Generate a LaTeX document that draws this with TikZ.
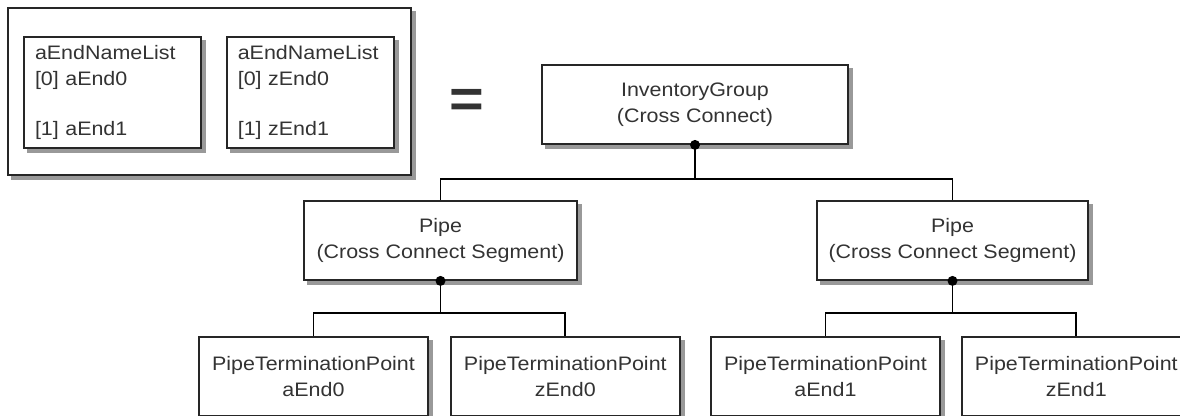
\documentclass[tikz,border=0pt]{standalone}
\usepackage{fontspec}
\setmainfont{Liberation Sans}[FakeStretch=1.1]
\usetikzlibrary{positioning, calc}

\begin{document}
\begin{tikzpicture}[x=1pt, y=-1pt, line width=1.8pt, node distance=21pt,
        every node/.style={font=\fontsize{19.5}{26}\selectfont, text=black!80},
        box/.style={draw=black!85, fill=white, inner sep=0pt, align=center, minimum height=79pt},
        listbox/.style={box, align=left, inner xsep=11pt, minimum height=111pt},
        dropline/.style={draw=black!40, line width=4pt, line cap=rect}]
        \clip (0,0) rectangle (1180,415);

        % Legend
        \node[box, minimum width=403pt, minimum height=167pt] (frame) at (209.5,91.5) {};
        \node[listbox, text width=155pt] (listA) at (112.5,92.5) {aEndNameList\\{}[0] aEnd0\\[24pt]{}[1] aEnd1};
        \node[listbox, text width=145pt] (listZ) [right=24pt of listA] {aEndNameList\\{}[0] zEnd0\\[24pt]{}[1] zEnd1};
        \node[font=\fontsize{54}{54}\selectfont\bfseries] (eq) at (467,103) {=};

        % Nodes
        \node[box, minimum width=306pt] (ig) at (695,104.5) {InventoryGroup\\(Cross Connect)};
        \node[box, minimum width=273pt] (pipeA) at (440.5,240.5) {Pipe\\(Cross Connect Segment)};
        \node[box, minimum width=271pt] (pipeB) at (952.5,240.5) {Pipe\\(Cross Connect Segment)};
        \node[box, minimum width=229pt] (tpA0) at (313.5,376.5) {PipeTerminationPoint\\aEnd0};
        \node[box, minimum width=229pt] (tpZ0) [right=of tpA0] {PipeTerminationPoint\\zEnd0};
        \node[box, minimum width=229pt] (tpA1) at (825.5,376.5) {PipeTerminationPoint\\aEnd1};
        \node[box, minimum width=229pt] (tpZ1) [right=20pt of tpA1] {PipeTerminationPoint\\zEnd1};

        % Shadows
        \foreach \n in {frame, listA, listZ, ig, pipeA, pipeB, tpA0, tpZ0, tpA1, tpZ1} {
                \draw[dropline] ($(\n.north east)+(2,6)$) -- ($(\n.south east)+(2,2)$)
                        -- ($(\n.south west)+(6,2)$);
        }

        % Edges
        \draw (ig.south) -- ++(0,34) coordinate (igbus);
        \draw (pipeA.north) |- (igbus) -| (pipeB.north);
        \foreach \p/\l/\r in {pipeA/tpA0/tpZ0, pipeB/tpA1/tpZ1} {
                \draw (\p.south) -- ++(0,32) coordinate (\p bus);
                \draw (\l.north) |- (\p bus) -| (\r.north);
        }

        % Dots
        \foreach \n in {ig, pipeA, pipeB} {
                \fill (\n.south) circle (5);
        }
\end{tikzpicture}
\end{document}
